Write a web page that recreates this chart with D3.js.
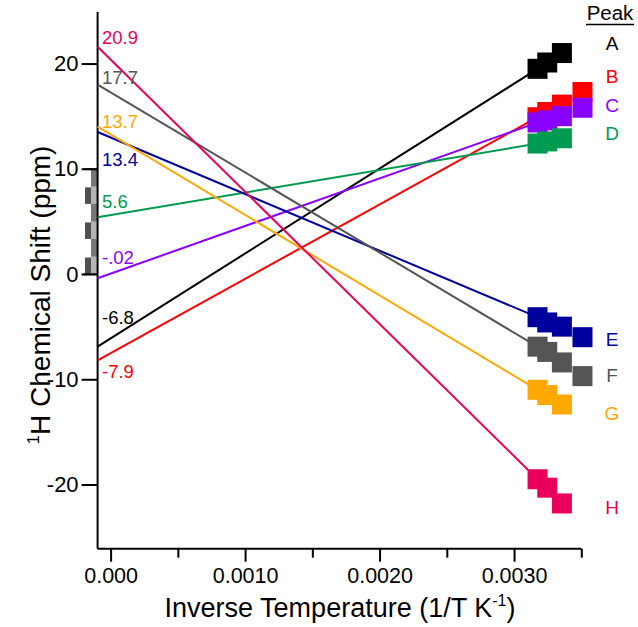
<!DOCTYPE html>
<html><head><meta charset="utf-8">
<script src="https://cdn.jsdelivr.net/npm/d3@7"></script>
<style>body{margin:0;background:#fff}svg{display:block}text{font-family:Arial,"Liberation Sans",Helvetica,sans-serif}</style>
</head><body>
<script>
const peaks = ["A","B","C","D","E","F","G","H"];
const colors = ["#000000","#ff0000","#8a00ff","#009b50","#00009c","#555555","#ffa800","#e8005a"];
const invTemps = [1/315, 1/308, 1/298, 1/285];
const shiftA = [19.5, 20.1, 21.0];
const shiftB = [14.9, 15.4, 16.1, 17.3];
const shiftC = [14.4, 14.6, 15.0, 15.8];
const shiftD = [12.4, 12.6, 12.9];
const shiftE = [-4.1, -4.6, -5.0, -6.0];
const shiftF = [-6.9, -7.4, -8.4, -9.7];
const shiftG = [-11.0, -11.5, -12.4];
const shiftH = [-19.5, -20.3, -21.8];
const interceptLabels = ["-6.8","-7.9","-.02","5.6","13.4","17.7","13.7","20.9"];
const lineStart = [-6.9, -8.2, -0.4, 5.4, 13.5, 18.0, 14.0, 21.6];
const xTicksMajor = [0, 0.001, 0.002, 0.003];
const xTickLabels = ["0.000","0.0010","0.0020","0.0030"];
const xTicksMinor = [0.0005, 0.0015, 0.0025, 0.0035];
const yTicks = [-20, -10, 0, 10, 20];
const yTickLabels = ["-20","-10","0","10","20"];

const series = [shiftA, shiftB, shiftC, shiftD, shiftE, shiftF, shiftG, shiftH];

const W = 638, H = 627;
const svg = d3.select("body").append("svg").attr("width", W).attr("height", H);
const x = d3.scaleLinear().domain([-0.0000967, 0.0035]).range([97.6, 581.3]);
const y = d3.scaleLinear().domain([-26.1, 24.9]).range([548.7, 12]);
const FONT = 'Arial,"Liberation Sans",Helvetica,sans-serif';

// checkered bar between 0 and 10 on y axis
const chk = svg.append("g");
const nRows = 6;
const rowVals = d3.range(nRows + 1).map(i => i * 10 / nRows);
chk.append("rect").attr("x", 91).attr("width", 6).attr("y", y(10)).attr("height", y(0) - y(10)).attr("fill", "#b4b4b4");
for (let i = 0; i < nRows; i++) {
  const y0 = y(rowVals[i + 1]), y1 = y(rowVals[i]);
  if (i % 2 === 0) chk.append("rect").attr("x", 85).attr("width", 6).attr("y", y0 + 1).attr("height", y1 - y0 - 1).attr("fill", "#505050");
  else chk.append("rect").attr("x", 91).attr("width", 6).attr("y", y0).attr("height", y1 - y0).attr("fill", "#777777");
}
chk.append("line").attr("x1", 83).attr("x2", 97).attr("y1", y(10)).attr("y2", y(10)).attr("stroke", "#333").attr("stroke-width", 1.5);
chk.append("line").attr("x1", 83).attr("x2", 97).attr("y1", y(0)).attr("y2", y(0)).attr("stroke", "#333").attr("stroke-width", 1.5);

// axes
const yAxis = d3.axisLeft(y).tickValues(yTicks).tickSize(16).tickPadding(3).tickFormat((d, i) => yTickLabels[i]);
const gy = svg.append("g").attr("transform", `translate(${x.range()[0]},0)`).call(yAxis);
gy.select(".domain").attr("stroke", "#000").attr("stroke-width", 2).attr("d", `M0,${y.range()[1]}V${y.range()[0]}`);
gy.selectAll(".tick line").attr("stroke", "#000").attr("stroke-width", 2);
gy.selectAll(".tick text").attr("font-size", 22).attr("font-family", FONT).attr("fill", "#000");

const xAxis = d3.axisBottom(x).tickValues(xTicksMajor).tickSize(13).tickPadding(6).tickFormat((d, i) => xTickLabels[i]);
const gx = svg.append("g").attr("transform", `translate(0,${y.range()[0]})`).call(xAxis);
gx.select(".domain").attr("stroke", "#000").attr("stroke-width", 2).attr("d", `M${x.range()[0]},0H${x.range()[1]}`);
gx.selectAll(".tick line").attr("stroke", "#000").attr("stroke-width", 2);
gx.selectAll(".tick text").attr("font-size", 21.5).attr("font-family", FONT).attr("fill", "#000");
const xMinor = d3.axisBottom(x).tickValues(xTicksMinor).tickSize(9).tickFormat("");
const gxm = svg.append("g").attr("transform", `translate(0,${y.range()[0]})`).call(xMinor);
gxm.select(".domain").remove();
gxm.selectAll(".tick line").attr("stroke", "#000").attr("stroke-width", 2);

// fit lines
const lineG = svg.append("g");
series.forEach((vals, i) => {
  lineG.append("line")
    .attr("x1", x(x.domain()[0])).attr("y1", y(lineStart[i]))
    .attr("x2", x(invTemps[0])).attr("y2", y(vals[0]))
    .attr("stroke", colors[i]).attr("stroke-width", 2);
});

// squares
const S = 20;
series.forEach((vals, i) => {
  svg.append("g").selectAll("rect").data(vals).join("rect")
    .attr("x", (d, j) => x(invTemps[j]) - S / 2)
    .attr("y", d => y(d) - S / 2)
    .attr("width", S).attr("height", S)
    .attr("fill", colors[i]);
});

// intercept labels
const labelY = [318, 372, 258, 202, 160, 78, 122, 38];
const labG = svg.append("g");
interceptLabels.forEach((t, i) => {
  labG.append("text").attr("x", 102).attr("y", labelY[i]).attr("dy", "0.35em")
    .attr("font-size", 18.5).attr("fill", colors[i]).text(t);
});

// legend
svg.append("text").attr("x", 610).attr("y", 13).attr("dy", "0.35em").attr("text-anchor", "middle")
  .attr("font-size", 20.5).attr("fill", "#000").text("Peak");
svg.append("line").attr("x1", 586).attr("x2", 634).attr("y1", 24.5).attr("y2", 24.5).attr("stroke", "#000").attr("stroke-width", 1.3);
const legY = [43, 76, 105, 133, 339, 375, 413, 507];
peaks.forEach((p, i) => {
  svg.append("text").attr("x", 612).attr("y", legY[i]).attr("dy", "0.35em").attr("text-anchor", "middle")
    .attr("font-size", 19).attr("fill", colors[i]).text(p);
});

// axis titles
const xt = svg.append("text").attr("x", 340).attr("y", 617).attr("text-anchor", "middle")
  .attr("font-size", 27).attr("fill", "#000");
xt.append("tspan").text("Inverse Temperature (1/T K");
xt.append("tspan").attr("font-size", 16).attr("dy", -11).text("-1");
xt.append("tspan").attr("dy", 11).text(")");

const yt = svg.append("text").attr("transform", `translate(50,${295}) rotate(-90)`).attr("text-anchor", "middle")
  .attr("font-size", 28).attr("fill", "#000");
yt.append("tspan").attr("font-size", 17).attr("dy", -11).text("1");
yt.append("tspan").attr("dy", 11).text("H Chemical Shift (ppm)");
</script>
</body></html>
